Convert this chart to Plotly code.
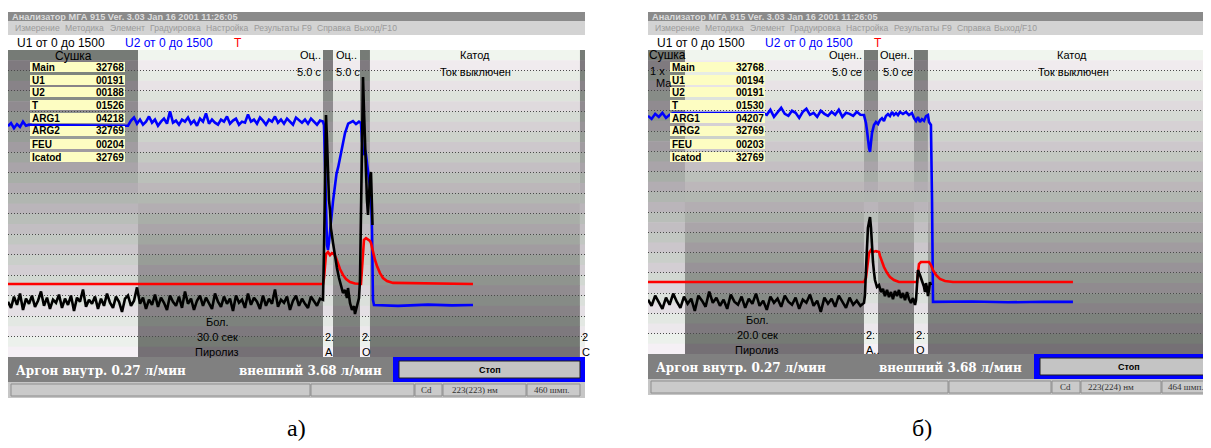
import plotly.graph_objects as go

W, H = 1211, 448
OX, OY = 8, 8          # the page body margin shifts the figure by this much
SANS = "Liberation Sans"
SERIF_B = "DejaVu Serif"

# ======================= DATA =======================
channel_labels = ["U1 от 0 до 1500", "U2 от 0 до 1500", "T"]
menu_items = ["Измерение", "Методика", "Элемент", "Градуировка", "Настройка",
              "Результаты F9", "Справка", "Выход/F10"]
table_labels = ["Main", "U1", "U2", "T", "ARG1", "ARG2", "FEU", "Icatod"]
a_table_values = ["32768", "00191", "00188", "01526", "04218", "32769", "00204", "32769"]
b_table_values = ["32768", "00194", "00191", "01530", "04207", "32769", "00203", "32769"]

# stage boundaries (s) and whether the stage is shaded dark-at-top
a_stage_edges = [0, 21.67, 52.5, 54.17, 58.67, 60.33, 95.33, 96.17]
a_stage_dark_top = [True, False, True, False, True, False, True]
b_stage_edges = [0, 4.11, 24.0, 25.56, 29.56, 31.11, 62.56]
b_stage_dark_top = [True, False, True, False, True, False]

# ---------- panel a) ----------
A_DT = 0.5  # sampling step of the recorded baseline, s
a_u2_base = [1128, 1143, 1118, 1138, 1124, 1150, 1130, 1135,
             1133, 1133, 1133, 1133, 1133, 1133, 1133, 1133, 1133, 1133, 1133, 1133, 1133, 1133, 1133, 1133,
             1133, 1133, 1133, 1133, 1133, 1133, 1133, 1133, 1133, 1133, 1133, 1133, 1133, 1133, 1133, 1133,
             1130, 1155, 1170, 1140, 1160, 1135, 1150, 1175, 1145, 1160,
             1130, 1150, 1165, 1140, 1200, 1145, 1155, 1135, 1160, 1150,
             1170, 1140, 1155, 1130, 1165, 1150, 1190, 1140, 1160, 1145,
             1135, 1160, 1150, 1175, 1140, 1155, 1165, 1135, 1150, 1145,
             1185, 1150, 1160, 1140, 1170, 1155, 1135, 1160, 1150, 1175,
             1145, 1160, 1140, 1165, 1150, 1135, 1170, 1155, 1145, 1160,
             1140, 1165, 1150, 1135, 1155, 1150]
a_u1_base = [270, 240, 295, 255, 310, 230, 285, 260, 300, 245,
             275, 320, 250, 290, 235, 280, 265, 305, 240, 285,
             255, 300, 225, 290, 270, 330, 245, 280, 260, 295,
             235, 285, 250, 310, 265, 240, 295, 270, 220, 285,
             300, 250, 275, 340, 260, 290, 235, 280, 255, 305,
             245, 290, 265, 230, 300, 270, 250, 295, 240, 320,
             260, 285, 230, 275, 300, 250, 290, 265, 235, 310,
             270, 245, 295, 260, 285, 225, 300, 265, 280, 240,
             310, 255, 290, 270, 235, 300, 250, 285, 260, 330,
             245, 280, 265, 295, 230, 275, 300, 250, 285, 260,
             240, 295, 270, 250, 285, 279]
a_u2_tail_t = [52.67, 52.83, 53.0, 53.17, 53.33, 53.5, 54.17, 54.75, 55.05, 55.6, 56.17, 56.7,
               57.5, 58.0, 58.5, 58.83, 59.0, 59.17, 59.33, 59.5, 59.67, 59.83, 60.0, 60.17,
               60.33, 60.5, 60.67, 60.83, 61.0, 65.0, 70.0, 74.0, 77.5]
a_u2_tail_v = [1133, 914, 669, 547, 523, 560, 760, 895, 930, 1010, 1094, 1140,
               1153, 1138, 1150, 1143, 1060, 987, 1002, 1011, 987, 948, 914, 875,
               840, 792, 621, 279, 254, 250, 256, 252, 254]
a_u1_tail_t = [52.67, 52.83, 53.0, 53.17, 53.33, 53.5, 53.67, 53.83, 54.17, 54.5,
               54.83, 55.17, 55.5, 55.83, 56.17, 56.5, 56.67, 57.0, 57.33, 57.67,
               57.83, 58.17, 58.5, 58.67, 58.83, 59.0, 59.17, 59.33, 59.5, 59.67,
               59.83, 60.0, 60.17, 60.33, 60.5, 60.67, 60.75]
a_u1_tail_v = [523, 963, 1182, 1060, 889, 767, 718, 630, 557, 489,
               435, 386, 342, 313, 327, 288, 337, 264, 230, 249,
               210, 244, 288, 376, 767, 1158, 1368, 1207, 1011, 865,
               767, 694, 792, 875, 904, 767, 645]
a_temp_t = [0, 52.5, 52.67, 52.83, 53.0, 53.33, 53.67, 54.0, 54.33, 54.67,
            55.0, 55.33, 55.83, 56.33, 57.0, 57.83, 58.83, 59.0, 59.17, 59.33,
            59.67, 60.0, 60.33, 60.5, 60.83, 61.17, 61.5, 62.0, 62.5, 63.17,
            64.17, 77.5]
a_temp_v = [357, 357, 386, 464, 503, 513, 498, 508, 503, 484,
            454, 430, 401, 381, 366, 359, 357, 450, 547, 572,
            581, 572, 567, 557, 513, 474, 445, 410, 386, 371,
            362, 357]

# ---------- panel б) ----------
B_DT = 0.4
b_u2_base = [1175, 1160, 1185, 1170, 1190, 1165, 1180,
             1189, 1189, 1189, 1189, 1189, 1189, 1189, 1189, 1189, 1189, 1189, 1189, 1189,
             1189, 1189, 1189, 1189, 1189, 1189, 1189, 1189, 1189, 1189, 1189, 1189, 1189,
             1180, 1205, 1170, 1195, 1215, 1185, 1175, 1200, 1190, 1165,
             1195, 1210, 1180, 1190, 1170, 1200, 1185, 1175, 1195, 1180,
             1205, 1170, 1190, 1185, 1175, 1195, 1180, 1179]
b_u1_base = [268, 238, 288, 253, 223, 278, 243, 298, 258, 228,
             283, 248, 273, 213, 288, 263, 233, 308, 253, 278,
             238, 268, 223, 293, 258, 243, 283, 228, 273, 248,
             298, 238, 263, 218, 283, 253, 273, 233, 288, 258,
             243, 278, 223, 268, 253, 293, 238, 263, 208, 278,
             248, 273, 233, 288, 258, 228, 278, 243, 263, 238,
             252]
b_u2_tail_t = [24.22, 24.33, 24.44, 24.56, 24.67, 24.78, 24.89, 25.11, 25.33, 25.56,
               25.78, 26.0, 26.22, 26.44, 26.67, 26.89, 27.11, 27.33, 27.56, 27.78,
               28.0, 28.33, 28.67, 29.0, 29.33, 29.56, 29.78, 30.0, 30.22, 30.44,
               30.67, 30.89, 31.11, 31.22, 31.44, 31.56, 31.67, 36.0, 40.0, 44.0,
               47.22]
b_u2_tail_v = [1140, 1105, 1056, 1016, 997, 1046, 1090, 1130, 1145, 1135,
               1155, 1164, 1150, 1174, 1184, 1174, 1194, 1179, 1189, 1179,
               1194, 1184, 1194, 1179, 1189, 1164, 1150, 1169, 1145, 1159,
               1150, 1174, 1179, 1145, 1130, 760, 257, 259, 255, 258,
               257]
b_u1_tail_t = [24.11, 24.22, 24.33, 24.44, 24.56, 24.67, 24.78, 24.89, 25.0, 25.11,
               25.22, 25.44, 25.67, 25.89, 26.11, 26.33, 26.56, 26.78, 27.0, 27.22,
               27.44, 27.67, 27.89, 28.11, 28.33, 28.56, 28.78, 29.0, 29.22, 29.44,
               29.67, 29.78, 29.89, 30.0, 30.22, 30.44, 30.67, 30.78, 30.89, 31.0,
               31.11, 31.22, 31.33, 31.44]
b_u1_tail_v = [291, 414, 538, 622, 651, 676, 622, 523, 454, 405,
               365, 331, 340, 306, 321, 286, 316, 281, 306, 271,
               311, 286, 316, 276, 301, 266, 306, 271, 252, 276,
               242, 266, 375, 414, 390, 365, 331, 306, 350, 326,
               286, 316, 355, 340]
b_temp_t = [0, 24.0, 24.22, 24.33, 24.44, 24.56, 24.78, 25.0, 25.33, 25.67,
            25.78, 26.0, 26.22, 26.56, 26.89, 27.33, 27.89, 29.89, 30.0, 30.11,
            30.33, 30.78, 31.22, 31.44, 31.67, 32.0, 32.44, 33.0, 33.89, 47.22]
b_temp_v = [355, 355, 375, 424, 474, 498, 513, 503, 508, 503,
            484, 454, 429, 400, 380, 365, 355, 355, 414, 444,
            454, 454, 454, 439, 414, 390, 370, 360, 355, 355]

# ======================= FIGURE =======================
shapes, annotations = [], []


def fx(x):
    return (x - OX) / W


def fy(y):
    return 1 - (y - OY) / H


def rect(x0, y0, x1, y1, fill, line_color=None, line_width=0, layer="above"):
    shapes.append(dict(type="rect", xref="paper", yref="paper",
                       x0=fx(x0), x1=fx(x1), y0=fy(y1), y1=fy(y0),
                       fillcolor=fill, layer=layer,
                       line=dict(color=line_color or fill, width=line_width)))


def text(x, y, s, size=11, color="black", anchor="left", family=SANS, bold=False):
    if bold:
        s = "<b>" + s + "</b>"
    annotations.append(dict(x=fx(x), y=fy(y), xref="paper", yref="paper", text=s,
                            showarrow=False, xanchor=anchor, yanchor="middle",
                            font=dict(family=family, size=size, color=color)))


def lerp(c0, c1, f):
    return [c0[i] + (c1[i] - c0[i]) * f for i in range(3)]


LIGHT_TOP, DARK_BOT = (244, 244, 242), (112, 112, 112)
DARK_TOP, LIGHT_BOT = (118, 118, 118), (244, 244, 244)
NB = 30


def shade_stages(xr, yr, edges, dark_top):
    for i in range(len(edges) - 1):
        top, bot = (DARK_TOP, LIGHT_BOT) if dark_top[i] else (LIGHT_TOP, DARK_BOT)
        for k in range(NB):
            c = lerp(top, bot, (k + 0.5) / NB)
            if k % 2 == 0:
                c = [c[0] - 2, c[1] + 3, c[2] - 2]
            else:
                c = [c[0] + 3, c[1] - 2, c[2] + 3]
            c = [max(0, min(255, int(round(v)))) for v in c]
            y1 = 1500 * (1 - k / NB)
            y0 = 1500 * (1 - (k + 1) / NB)
            shapes.append(dict(type="rect", xref=xr, yref=yr, x0=edges[i], x1=edges[i + 1],
                               y0=y0 - 3, y1=y1, layer="below", line=dict(width=0),
                               fillcolor="rgb(%d,%d,%d)" % tuple(c)))


shade_stages("x", "y", a_stage_edges, a_stage_dark_top)
shade_stages("x2", "y2", b_stage_edges, b_stage_dark_top)

fig = go.Figure()


def add_series(xa, ya, t, v, color):
    fig.add_trace(go.Scatter(x=t, y=v, mode="lines", xaxis=xa, yaxis=ya,
                             line=dict(color=color, width=2.6), hoverinfo="skip", showlegend=False))


a_t_base = [round(i * A_DT, 2) for i in range(len(a_u2_base))]
b_t_base = [round(i * B_DT, 2) for i in range(len(b_u2_base))]

add_series("x", "y", a_t_base + a_u2_tail_t, a_u2_base + a_u2_tail_v, "#0000ff")
add_series("x", "y", a_temp_t, a_temp_v, "#ff0000")
add_series("x", "y", a_t_base + a_u1_tail_t, a_u1_base + a_u1_tail_v, "#000000")
add_series("x2", "y2", b_t_base + b_u2_tail_t, b_u2_base + b_u2_tail_v, "#0000ff")
add_series("x2", "y2", b_temp_t, b_temp_v, "#ff0000")
add_series("x2", "y2", b_t_base + b_u1_tail_t, b_u1_base + b_u1_tail_v, "#000000")


# ---------- window chrome ----------
def window(ox, right):
    rect(ox + 8, 12, right, 21, "#8a8a8a")
    text(ox + 10, 16.5, "Анализатор МГА 915 Ver. 3.03 Jan 16 2001 11:26:05", 9.2, "#dcdcdc", bold=True)
    rect(ox + 8, 21, right, 35, "#d3d3d3")
    for xm, m in zip([13, 63, 108, 148, 204, 252, 315, 352], menu_items):
        text(ox + xm, 28, m, 8.6, "#9a9a9a")
    text(ox + 15, 43, channel_labels[0], 12, "black")
    text(ox + 123, 43, channel_labels[1], 12, "#0000ff")
    text(ox + 232, 43, channel_labels[2], 12, "#ff0000")


def table(x0, values):
    tops = [62, 75, 87, 100, 113, 126, 139, 152]
    for top, lab, val in zip(tops, table_labels, values):
        rect(x0, top, x0 + 95, top + 10, "#fdfdc2")
        text(x0, top + 5, lab, 10, "black", bold=True)
        text(x0 + 96, top + 5, val, 10, "black", anchor="right", bold=True)


window(0, 585)
window(640, 1219)

# panel a labels
text(73, 56, "Сушка", 12, anchor="center")
table(30, a_table_values)
text(323, 55, "Оц..", 11, anchor="right")
text(323, 72, "5.0 с", 11, anchor="right")
text(334, 55, "Оц..", 11)
text(334, 72, "5.0 с", 11)
text(475, 55, "Катод", 11, anchor="center")
text(475, 72, "Ток выключен", 11, anchor="center")
text(217, 322, "Бол.", 11, anchor="center")
text(217, 337, "30.0 сек", 11, anchor="center")
text(217, 352, "Пиролиз", 11, anchor="center")
text(323, 337, "2.", 11)
text(323, 352, "А", 11)
text(360, 337, "2.", 11)
text(360, 352, "О", 11)
text(580, 337, "2", 11)
text(580, 352, "С", 11)

# panel б labels
text(647, 55, "Сушка", 12)
text(648, 71, "1 x", 11)
text(654, 83, "Ma", 11)
table(670, b_table_values)
text(864, 55, "Оцен..", 11, anchor="right")
text(864, 72, "5.0 се", 11, anchor="right")
text(878, 55, "Оцен..", 11)
text(881, 72, "5.0 се", 11)
text(1072, 55, "Катод", 11, anchor="center")
text(1073, 72, "Ток выключен", 11, anchor="center")
text(757, 320, "Бол.", 11, anchor="center")
text(757, 335, "20.0 сек", 11, anchor="center")
text(757, 350, "Пиролиз", 11, anchor="center")
text(864, 335, "2.", 11)
text(864, 350, "А..", 11)
text(914, 335, "2.", 11)
text(914, 350, "О", 11)

# bottom bars
for (x0, y0, y1, stop_x0, right, stop_cx, cells, cell_texts) in [
    (8, 357, 382, 393, 585, 490,
     [(11, 310), (311, 414), (415, 442), (443, 526), (527, 580)],
     [(419, "Cd"), (450, "223(223) нм"), (532, "460 шмп.")]),
    (648, 354, 379, 1034, 1219, 1129,
     [(651, 948), (949, 1051), (1052, 1080), (1081, 1161), (1162, 1219)],
     [(1058, "Cd"), (1086, "223(224) нм"), (1166, "464 шмп.")]),
]:
    rect(x0, y0, stop_x0, y1, "#808080")
    text(x0 + 6, (y0 + y1) / 2 + 1, "Аргон внутр. 0.27 л/мин", 12, "white", family=SERIF_B, bold=True)
    text(x0 + 229, (y0 + y1) / 2 + 1, "внешний 3.68 л/мин", 12, "white", family=SERIF_B, bold=True)
    rect(stop_x0, y0, right, y1, "#0000ff")
    rect(stop_x0 + 6, y0 + 4, right - 5, y1 - 4, "#c4c4c4", "#202020", 1)
    text(stop_cx, (y0 + y1) / 2, "Стоп", 9, "black", anchor="center", bold=True)
    rect(x0, y1, right, y1 + 16, "#c6c6c6")
    for c0, c1 in cells:
        rect(c0, y1 + 2, c1, y1 + 14, "#cacaca", "#8e8e8e", 1)
    for cx, s in cell_texts:
        text(cx, y1 + 8, s, 9, "#333333", family="Liberation Sans Narrow")

# captions
text(296, 428, "а)", 24, "black", anchor="center", family="Liberation Serif")
text(922, 428, "б)", 24, "black", anchor="center", family="Liberation Serif")

grid_vals = [0, 100, 200, 300, 400, 500, 600, 700, 800, 900, 1000, 1100, 1200, 1300, 1400]
yax = dict(range=[0, 1500], tickvals=grid_vals, showticklabels=False, ticks="",
           showgrid=True, gridcolor="#4a4a4a", gridwidth=1, griddash="1px,2px",
           zeroline=False, showline=False, fixedrange=True)
xax = dict(showgrid=False, zeroline=False, showline=False, showticklabels=False,
           ticks="", fixedrange=True)

fig.update_layout(
    width=W, height=H, autosize=False,
    margin=dict(l=0, r=0, t=0, b=0),
    paper_bgcolor="white", plot_bgcolor="rgba(0,0,0,0)",
    showlegend=False,
    xaxis=dict(xax, domain=[fx(8), fx(585)], range=[0, 96.17]),
    yaxis=dict(yax, domain=[fy(357), fy(50)], anchor="x"),
    xaxis2=dict(xax, domain=[fx(648), fx(1211)], range=[0, 62.56], anchor="y2"),
    yaxis2=dict(yax, domain=[fy(354), fy(50)], anchor="x2"),
    shapes=shapes, annotations=annotations,
)

fig.write_html("out.html", config={"displayModeBar": False})
